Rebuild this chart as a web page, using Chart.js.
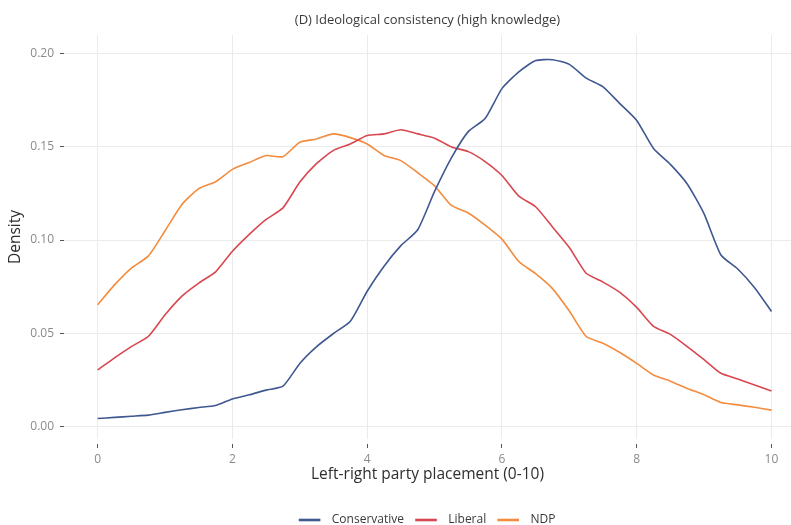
<!DOCTYPE html>
<html>
<head>
<meta charset="utf-8">
<script src="https://cdn.jsdelivr.net/npm/chart.js@4.4.1/dist/chart.umd.min.js"></script>
<style>
  html, body { margin: 0; padding: 0; background: #fff; }
  #wrap { width: 791px; height: 525px; }
</style>
</head>
<body>
<div id="wrap"><canvas id="myChart"></canvas></div>
<script>
// party placement grid (0-10)
const placement = [
  0, 0.25, 0.5, 0.75, 1, 1.25, 1.5, 1.75, 2, 2.25, 2.5, 2.75, 3, 3.25, 3.5, 3.75,
  4, 4.25, 4.5, 4.75, 5, 5.25, 5.5, 5.75, 6, 6.25, 6.5, 6.75, 7, 7.25, 7.5, 7.75,
  8, 8.25, 8.5, 8.75, 9, 9.25, 9.5, 9.75, 10
];

const conservative = [
  0.0045, 0.0051, 0.0057, 0.0063, 0.0078, 0.0092, 0.0104, 0.0115, 0.0150, 0.0172,
  0.0197, 0.0218, 0.0340, 0.0430, 0.0500, 0.0565, 0.0726, 0.0860, 0.0970, 0.1055,
  0.1260, 0.1440, 0.1580, 0.1650, 0.1810, 0.1900, 0.1960, 0.1965, 0.1940, 0.1866,
  0.1820, 0.1730, 0.1640, 0.1490, 0.1405, 0.1300, 0.1140, 0.0920, 0.0845, 0.0745,
  0.0618
];

const liberal = [
  0.0305, 0.0370, 0.0430, 0.0484, 0.0600, 0.0700, 0.0770, 0.0830, 0.0940, 0.1030,
  0.1110, 0.1172, 0.1310, 0.1410, 0.1480, 0.1514, 0.1559, 0.1568, 0.1590, 0.1568,
  0.1545, 0.1498, 0.1473, 0.1420, 0.1345, 0.1235, 0.1178, 0.1070, 0.0960, 0.0822,
  0.0775, 0.0720, 0.0640, 0.0538, 0.0495, 0.0430, 0.0360, 0.0287, 0.0257, 0.0225,
  0.0192
];

const ndp = [
  0.0654, 0.0760, 0.0850, 0.0914, 0.1050, 0.1190, 0.1275, 0.1312, 0.1378, 0.1415,
  0.1452, 0.1446, 0.1523, 0.1541, 0.1568, 0.1548, 0.1514, 0.1452, 0.1425, 0.1360,
  0.1290, 0.1185, 0.1145, 0.1080, 0.1005, 0.0885, 0.0820, 0.0740, 0.0620, 0.0484,
  0.0448, 0.0398, 0.0340, 0.0278, 0.0245, 0.0206, 0.0172, 0.0131, 0.0118, 0.0105,
  0.0090
];

const xTicks = [0, 2, 4, 6, 8, 10];
const yTicks = [0, 0.05, 0.10, 0.15, 0.20];
const yTickLabels = ['0.00', '0.05', '0.10', '0.15', '0.20'];

const FONT = "'Open Sans', 'DejaVu Sans', sans-serif";

function toPoints(values) {
  return placement.map((p, i) => ({ x: p, y: values[i] }));
}

function series(label, values, color) {
  return {
    label: label,
    data: toPoints(values),
    borderColor: color,
    backgroundColor: color,
    borderWidth: 1.6,
    pointRadius: 0,
    tension: 0.2,
    fill: false
  };
}

const data = {
  datasets: [
    series('Conservative', conservative, '#3f5890'),
    series('Liberal', liberal, '#d8474f'),
    series('NDP', ndp, '#f38c3e')
  ]
};

const config = {
  type: 'line',
  data: data,
  options: {
    responsive: true,
    maintainAspectRatio: false,
    animation: false,
    layout: { padding: { left: 0, right: 0, top: 0, bottom: -11 } },
    plugins: {
      tooltip: { enabled: false },
      title: {
        display: true,
        fullSize: false,
        text: '(D) Ideological consistency (high knowledge)',
        color: '#3a3a3a',
        font: { family: FONT, size: 13, weight: 'normal' },
        padding: { top: 12, bottom: 7.4 }
      },
      legend: {
        position: 'bottom',
        fullSize: false,
        labels: {
          boxWidth: 20,
          boxHeight: 1,
          padding: 12,
          color: '#3a3a3a',
          font: { family: FONT, size: 12 },
          generateLabels: function(chart) {
            // a little more room between the swatch and the name
            const items = Chart.defaults.plugins.legend.labels.generateLabels(chart);
            items.forEach(it => { it.text = '  ' + it.text; });
            return items;
          }
        }
      }
    },
    scales: {
      x: {
        type: 'linear',
        min: -0.5,
        max: 10.29,
        afterBuildTicks: function(scale) {
          scale.ticks = xTicks.map(v => ({ value: v }));
        },
        afterFit: function(scale) { scale.height = 63; },
        grid: {
          color: '#ebebeb',
          lineWidth: 1,
          tickLength: 9,
          tickColor: '#555',
          tickBorderDash: [0, 5, 4, 100]
        },
        border: { display: false },
        ticks: {
          color: '#8a8a8a',
          padding: 4,
          font: { family: FONT, size: 12 },
          maxRotation: 0,
          callback: v => String(v)
        },
        title: {
          display: true,
          text: 'Left-right party placement (0-10)',
          color: '#2e2e2e',
          font: { family: FONT, size: 15.5 },
          padding: { top: 0, bottom: 17.7 }
        }
      },
      y: {
        min: -0.00645,
        max: 0.2097,
        afterBuildTicks: function(scale) {
          scale.ticks = yTicks.map(v => ({ value: v }));
        },
        afterFit: function(scale) { scale.width = 64; },
        grid: {
          color: '#ebebeb',
          lineWidth: 1,
          tickLength: 4,
          tickColor: '#555'
        },
        border: { display: false },
        ticks: {
          color: '#8a8a8a',
          padding: 6,
          font: { family: FONT, size: 12 },
          callback: function(v) {
            const i = yTicks.indexOf(v);
            return i >= 0 ? yTickLabels[i] : '';
          }
        },
        title: {
          display: true,
          text: 'Density',
          color: '#2e2e2e',
          font: { family: FONT, size: 15.5 },
          padding: { top: 6.5, bottom: 0 }
        }
      }
    }
  }
};

const myChart = new Chart(
  document.getElementById('myChart'),
  config
);
</script>
</body>
</html>
